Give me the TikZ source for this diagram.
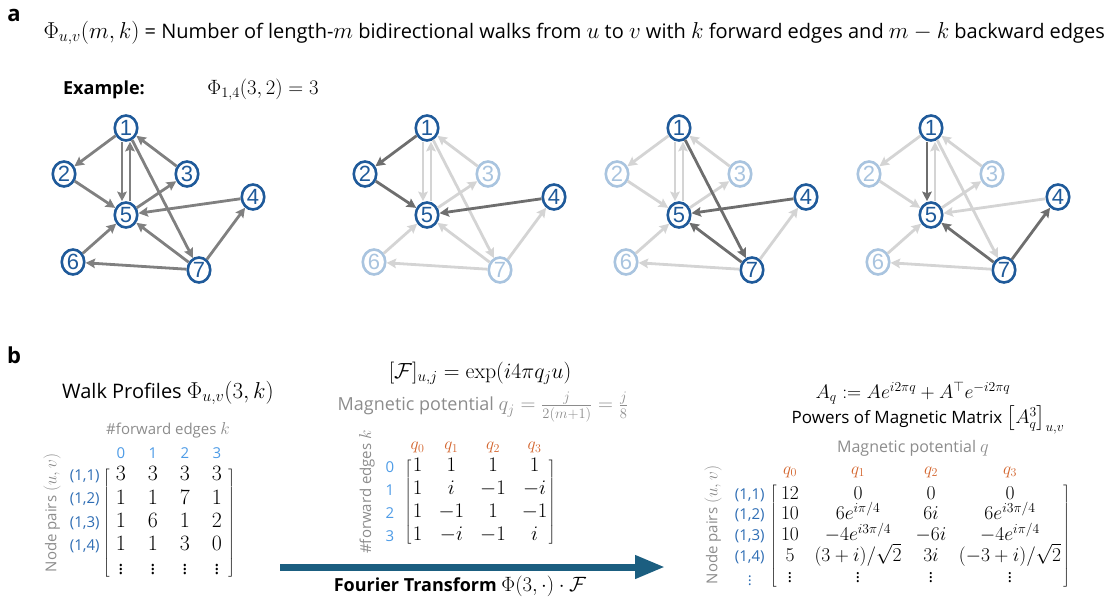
\RequirePackage{fix-cm}
\documentclass[tikz,border=0pt]{standalone}
\usepackage{amsmath}
\usepackage[no-math]{fontspec}
\setmainfont{Open Sans}
\newfontfamily\numfont{Liberation Sans}
\usepackage{xcolor}
\usetikzlibrary{positioning, arrows.meta, shapes.geometric, matrix}

\DeclareMathSizes{15}{17.25}{12}{9}
\DeclareMathSizes{16}{18.4}{12.9}{9.2}
\DeclareMathSizes{17}{19.55}{13.7}{9.8}
\DeclareMathSizes{18}{20.7}{14.5}{10.4}
\DeclareMathSizes{19}{21.85}{15.3}{10.9}
\DeclareMathSizes{20}{23}{16.1}{11.5}
\DeclareMathSizes{22}{25.3}{17.7}{12.7}

\definecolor{nodeblue}{HTML}{1F5A9A}
\definecolor{nodefade}{HTML}{A9C4DF}
\definecolor{edgemid}{HTML}{808080}
\definecolor{edgedark}{HTML}{6E6E6E}
\definecolor{edgelight}{HTML}{D4D4D4}
\definecolor{qorange}{HTML}{D2622A}
\definecolor{kblue}{HTML}{4D9BE6}
\definecolor{pairblue}{HTML}{2E6DB4}
\definecolor{ftteal}{HTML}{1B5E80}
\definecolor{axgray}{HTML}{8C8C8C}

\newcommand{\px}[1]{\fontsize{#1}{#1}\selectfont}

\tikzset{
    vert/.style={ellipse, line width=2.6pt, fill=white, minimum width=22.5pt,
        minimum height=25pt, inner sep=0pt, font=\numfont\px{22}},
    vhi/.style={vert, draw=nodeblue, text=nodeblue},
    vlo/.style={vert, draw=nodefade, text=nodefade},
    arc/.style={line width=2.8pt, -{Stealth[length=9.5pt, width=9.5pt, inset=1.5pt]}},
    amid/.style={arc, draw=edgemid},
    ahi/.style={arc, draw=edgedark},
    alo/.style={arc, draw=edgelight},
    v1/.style=vlo, v2/.style=vlo, v3/.style=vlo, v4/.style=vlo,
    v5/.style=vlo, v6/.style=vlo, v7/.style=vlo,
    e12/.style=alo, e25/.style=alo, e31/.style=alo, e53/.style=alo,
    e65/.style=alo, e76/.style=alo, e17/.style=alo, e75/.style=alo,
    e45/.style=alo, e74/.style=alo, e15/.style=alo, e51/.style=alo,
    panel/.style={font=\bfseries\px{22}},
    axlab/.style={text=axgray, font=\px{15}},
    pairlab/.style={text=pairblue, font=\px{15}, inner sep=0pt},
    klab/.style={text=kblue, font=\px{15}, inner sep=0pt},
    qlab/.style={text=qorange, font=\px{15}, inner sep=0pt},
    bigmat/.style={matrix of math nodes, left delimiter={[}, right delimiter={]},
        inner sep=0pt, nodes={inner sep=0pt, anchor=center}},
    ftarrow/.style={line width=7pt, draw=ftteal, -{Triangle[length=30pt, width=22pt]}}
}

% one copy of the example graph, #1 = name prefix, #2 = x offset
\newcommand{\walkgraph}[2]{%
    \foreach \v/\x/\y in {1/126/128, 2/64/174, 3/187/174, 4/253/197,
                          5/126/215, 6/73/262, 7/199/270}
        \node[v\v] (#1\v) at (#2+\x,\y) {\v};
    \foreach \a/\b in {1/2, 2/5, 3/1, 5/3, 6/5, 7/6, 1/7, 7/5, 4/5, 7/4}
        \draw[e\a\b] (#1\a) -- (#1\b);
    \draw[e15] ([xshift=-4pt]#11.south) -- ([xshift=-4pt]#15.north);
    \draw[e51] ([xshift=4pt]#15.north) -- ([xshift=4pt]#11.south);
}

\begin{document}
\begin{tikzpicture}[x=1pt, y=-1pt]
    \useasboundingbox (0,0) rectangle (1118,601);

    % panel a
    \node[panel] (pa) at (14,15) {a};
    \node[anchor=west, font=\px{20}] (defn) at (40,33)
        {$\Phi_{u,v}(m,k)$ = Number of length-$m$ bidirectional walks from $u$ to $v$
         with $k$ forward edges and $m-k$ backward edges};
    \node[font=\bfseries\px{18}] (exlab) at (104,90) {Example:};
    \node[font=\px{18}] (exval) at (263,90) {$\Phi_{1,4}(3,2)=3$};

    \begin{scope}[vlo/.style=vhi, alo/.style=amid]
        \walkgraph{all}{0}
    \end{scope}
    \begin{scope}[v1/.style=vhi, v2/.style=vhi, v4/.style=vhi, v5/.style=vhi,
                  e12/.style=ahi, e25/.style=ahi, e45/.style=ahi]
        \walkgraph{wa}{301}
    \end{scope}
    \begin{scope}[v1/.style=vhi, v4/.style=vhi, v5/.style=vhi, v7/.style=vhi,
                  e17/.style=ahi, e75/.style=ahi, e45/.style=ahi]
        \walkgraph{wb}{553}
    \end{scope}
    \begin{scope}[v1/.style=vhi, v4/.style=vhi, v5/.style=vhi, v7/.style=vhi,
                  e15/.style=ahi, e75/.style=ahi, e74/.style=ahi]
        \walkgraph{wc}{805}
    \end{scope}

    % panel b
    \node[panel] (pb) at (14,355) {b};

    % walk profiles
    \node[font=\px{20}] (walktitle) at (168,393) {Walk Profiles $\Phi_{u,v}(3,k)$};
    \node[axlab] (walkk) at (168,430) {\#forward edges $k$};
    \matrix (walkmat) at (169,523) [bigmat, column sep=12pt, row sep=6.3pt,
        nodes={minimum width=20pt, text height=13pt, text depth=4pt, font=\px{19}}] {
        3 & 3 & 3 & 3 \\
        1 & 1 & 7 & 1 \\
        1 & 6 & 1 & 2 \\
        1 & 1 & 3 & 0 \\
        \vdots & \vdots & \vdots & \vdots \\
    };
    \foreach \c in {1,...,4}
        \node[klab, above=9pt of walkmat-1-\c] (walkc\c) {\number\numexpr\c-1\relax};
    \foreach \r/\p in {1/{(1,1)}, 2/{(1,2)}, 3/{(1,3)}, 4/{(1,4)}}
        \node[pairlab, left=11pt of walkmat-\r-1] (walkr\r) {\p};
    \node[axlab, rotate=90] (walkpairs) at (52,513) {Node pairs $(u,v)$};

    % Fourier matrix
    \node[font=\px{19}] (fttitle) at (480,373) {$[\mathcal{F}]_{u,j}=\exp(i4\pi q_j u)$};
    \node[axlab, font=\px{18}] (ftpot) at (483,407)
        {Magnetic potential $q_j=\frac{j}{2(m+1)}=\frac{j}{8}$};
    \matrix (ftmat) at (480,502) [bigmat, column sep=16pt, row sep=6.5pt,
        nodes={minimum width=20pt, text height=12.5pt, text depth=4pt, font=\px{18}},
        column 1/.style={nodes={minimum width=10pt}}] {
        1 & 1 & 1 & 1 \\
        1 & i & -1 & -i \\
        1 & -1 & 1 & -1 \\
        1 & -i & -1 & i \\
    };
    \foreach \c in {1,...,4}
        \node[qlab, above=6pt of ftmat-1-\c] (ftc\c) {$q_{\number\numexpr\c-1\relax}$};
    \foreach \r in {1,...,4}
        \node[klab, left=18pt of ftmat-\r-1] (ftr\r) {\number\numexpr\r-1\relax};
    \node[axlab, rotate=90] (ftk) at (367,492) {\#forward edges $k$};

    \coordinate (ftfrom) at (280,567);
    \coordinate (ftto) at (665,567);
    \draw[ftarrow] (ftfrom) -- (ftto);
    \node[font=\bfseries\px{18}] (ftlab) at (460,586)
        {Fourier Transform $\Phi(3,\cdot)\cdot\mathcal{F}$};

    % magnetic matrix powers
    \node[font=\px{17}] (magdef) at (913,393)
        {$A_q \mathrel{:}= Ae^{i2\pi q}+A^{\top}e^{-i2\pi q}$};
    \node[font=\px{17}] (magtitle) at (928,420) {Powers of Magnetic Matrix $\big[A_q^3\big]_{u,v}$};
    \node[axlab, font=\px{16}] (magq) at (913,448) {Magnetic potential $q$};
    \matrix (magmat) at (920,536.5) [bigmat, column sep=10pt, row sep=2.75pt,
        nodes={text height=13pt, text depth=5pt, font=\px{17}},
        column 1/.style={nodes={minimum width=24pt}},
        column 2/.style={nodes={minimum width=92pt}},
        column 3/.style={nodes={minimum width=34pt}},
        column 4/.style={nodes={minimum width=104pt}}] {
        12 & 0 & 0 & 0 \\
        10 & 6e^{i\pi/4} & 6i & 6e^{i3\pi/4} \\
        10 & -4e^{i3\pi/4} & -6i & -4e^{i\pi/4} \\
        5 & (3+i)/\sqrt{2} & 3i & (-3+i)/\sqrt{2} \\
        \vdots & \vdots & \vdots & \vdots \\
    };
    \foreach \c in {1,...,4}
        \node[qlab, above=8pt of magmat-1-\c] (magc\c) {$q_{\number\numexpr\c-1\relax}$};
    \foreach \r/\p in {1/{(1,1)}, 2/{(1,2)}, 3/{(1,3)}, 4/{(1,4)}}
        \node[pairlab, left=13pt of magmat-\r-1] (magr\r) {\p};
    \node[pairlab] (magr5) at (magr4 |- magmat-5-1) {$\vdots$};
    \node[axlab, rotate=90] (magpairs) at (713,525) {Node pairs $(u,v)$};
\end{tikzpicture}
\end{document}
